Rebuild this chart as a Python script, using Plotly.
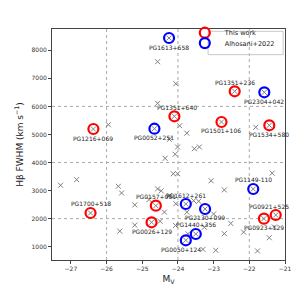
import plotly.graph_objects as go

# Background sample (grey crosses)
bg_mv = [-24.57, -24.57, -25.95, -24.06, -23.95, -23.75, -24.24, -21.82, -24.01, -23.54,
         -23.40, -24.08, -24.36, -24.13, -24.01, -23.07, -22.70, -21.36, -24.57, -24.47,
         -24.24, -24.06, -23.56, -23.42, -23.75, -23.00, -24.38, -24.50, -25.21, -24.07,
         -23.26, -22.52, -22.16, -21.44, -21.77, -23.30, -22.94, -22.70, -21.30, -25.21,
         -25.63, -24.81, -25.67, -25.58, -27.29, -26.84, -23.72]
bg_fwhm = [7594, 6111, 5349, 6810, 5313, 5046, 4825, 5256, 4554, 4493,
           4554, 4294, 4151, 3602, 3602, 3350, 3025, 3620, 3060, 2990,
           2818, 2533, 2640, 2619, 2230, 2166, 2232, 1906, 1770, 1757,
           1692, 1830, 1520, 1320, 850, 905, 872, 1464, 1700, 2490,
           1555, 2680, 3153, 2915, 3189, 3390, 1460]

# This work (red)
tw_names = ["PG1216+069", "PG1351+640", "PG1351+236", "PG1501+106", "PG1534+580",
            "PG1700+518", "PG0157+001", "PG0026+129", "PG0921+525", "PG0923+129"]
tw_mv = [-26.37, -24.10, -22.41, -22.78, -21.44, -26.45, -24.62, -24.74, -21.26, -21.59]
tw_fwhm = [5195, 5648, 6539, 5445, 5327, 2202, 2462, 1870, 2130, 2000]
tw_pos = ["below", "above", "above", "below", "below", "above", "above", "below", "above", "below"]
tw_dx = [0, 3, 0, 0, 0, 0, 0, 0, -7, 0]

# Alhosani+2022 (blue)
al_names = ["PG1613+658", "PG0052+251", "PG2304+042", "PG1149-110", "PG1612+261",
            "PG2130+099", "PG1440+356", "PG0050+124"]
al_mv = [-24.25, -24.66, -21.58, -21.89, -23.78, -23.24, -23.50, -23.78]
al_fwhm = [8438, 5206, 6503, 3057, 2522, 2344, 1453, 1229]
al_pos = ["below", "below", "below", "above", "above", "below", "above", "below"]
al_dx = [0, 0, 0, 0, 0, 0, 0, -5]

fig = go.Figure()

fig.add_trace(go.Scatter(
    x=bg_mv + tw_mv + al_mv, y=bg_fwhm + tw_fwhm + al_fwhm, mode="markers",
    marker=dict(symbol="x-thin-open", size=5, color="grey",
                line=dict(color="grey", width=1)),
    showlegend=False, hoverinfo="skip"))

fig.add_trace(go.Scatter(
    x=tw_mv, y=tw_fwhm, mode="markers", name="This work", legend="legend",
    marker=dict(symbol="circle-open", size=10, color="red",
                line=dict(color="red", width=2.2))))

fig.add_trace(go.Scatter(
    x=al_mv, y=al_fwhm, mode="markers", name="Alhosani+2022", legend="legend2",
    marker=dict(symbol="circle-open", size=10, color="blue",
                line=dict(color="blue", width=2.2))))

annotations = []
for names, xs, ys, pos, dxs in [(tw_names, tw_mv, tw_fwhm, tw_pos, tw_dx),
                                (al_names, al_mv, al_fwhm, al_pos, al_dx)]:
    for n, xv, yv, p, dx in zip(names, xs, ys, pos, dxs):
        annotations.append(dict(
            x=xv, y=yv, xref="x", yref="y", text=n, showarrow=False,
            yshift=(-9 if p == "below" else 9), xshift=dx,
            font=dict(family="DejaVu Sans", size=6, color="#222222")))

grid_x = [-26, -24, -22]
grid_y = [2000, 4000, 6000]
shapes = []
for gx in grid_x:
    shapes.append(dict(type="line", xref="x", yref="paper", x0=gx, x1=gx, y0=0, y1=1,
                       line=dict(color="#aaaaaa", width=1, dash="dot"), layer="below"))
for gy in grid_y:
    shapes.append(dict(type="line", xref="paper", yref="y", x0=0, x1=1, y0=gy, y1=gy,
                       line=dict(color="#aaaaaa", width=1, dash="dot"), layer="below"))
# legend frame
shapes.append(dict(type="rect", xref="paper", yref="paper", x0=0.670, x1=0.992, y0=0.889, y1=0.990,
                   line=dict(color="#c8c8c8", width=1), fillcolor="rgba(0,0,0,0)", layer="above"))

leg_common = dict(xanchor="left", yanchor="middle", bgcolor="rgba(0,0,0,0)", borderwidth=0,
                  font=dict(family="DejaVu Sans", size=6.5, color="#222222"), itemwidth=30)

fig.update_layout(
    width=299, height=286,
    margin=dict(l=44, r=22, t=21, b=34, autoexpand=False),
    paper_bgcolor="white", plot_bgcolor="white",
    font=dict(family="DejaVu Sans", size=6, color="#333333"),
    annotations=annotations, shapes=shapes,
    legend=dict(x=0.570, y=0.984, **leg_common),
    legend2=dict(x=0.570, y=0.939, **leg_common),
    showlegend=True,
)
fig.update_xaxes(range=[-27.53, -21.0], dtick=1, tick0=-27, showgrid=False, zeroline=False,
                 showline=True, linecolor="#444444", linewidth=1, mirror=True,
                 ticks="outside", ticklen=3, tickcolor="#444444", automargin=False,
                 tickfont=dict(size=6, color="#333333"),
                 title=dict(text="M<sub>V</sub>", font=dict(size=9, color="#222222"), standoff=4))
fig.update_yaxes(range=[526, 8759], dtick=1000, tick0=0, showgrid=False, zeroline=False,
                 showline=True, linecolor="#444444", linewidth=1, mirror=True,
                 ticks="outside", ticklen=3, tickcolor="#444444", automargin=False,
                 tickfont=dict(size=6, color="#333333"),
                 title=dict(text="Hβ FWHM (km s<sup>−1</sup>)", font=dict(size=9, color="#222222"), standoff=6))

fig.write_html("out.html")
